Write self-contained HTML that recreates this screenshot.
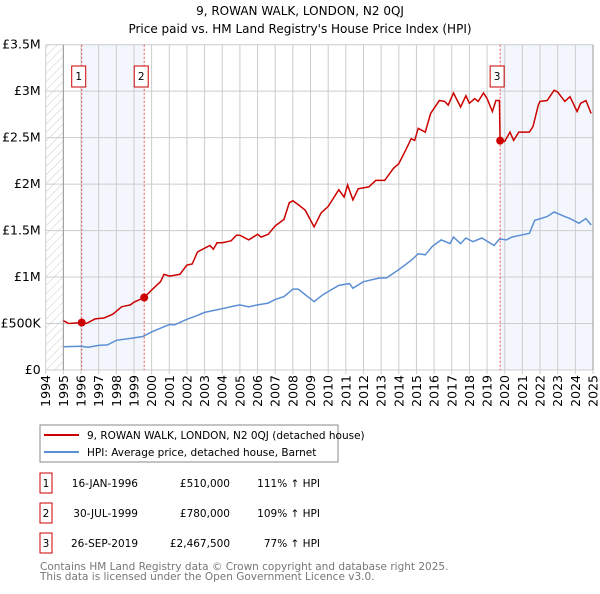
<!DOCTYPE html>
<html><head><meta charset="utf-8"><style>
body{margin:0;background:#fff;font-family:"DejaVu Sans","Liberation Sans",sans-serif;}
svg text{font-family:"DejaVu Sans","Liberation Sans",sans-serif;}
</style></head><body>
<svg id="c" width="600" height="590" xmlns="http://www.w3.org/2000/svg">
<defs><pattern id="hatch" width="6" height="6" patternUnits="userSpaceOnUse" patternTransform="rotate(45)"><line x1="0" y1="0" x2="0" y2="6" stroke="#ccc" stroke-width="1"/></pattern></defs>
<text x="300" y="15" text-anchor="middle" font-size="12" fill="#000">9, ROWAN WALK, LONDON, N2 0QJ</text>
<text x="300" y="33" text-anchor="middle" font-size="12" fill="#000">Price paid vs. HM Land Registry's House Price Index (HPI)</text>
<g id="plot"></g>
<g>
<rect x="40" y="425" width="298" height="37" fill="#fff" stroke="#888"/>
<line x1="44" y1="435" x2="79" y2="435" stroke="#cc0000" stroke-width="2"/>
<text x="87" y="439" font-size="10.5">9, ROWAN WALK, LONDON, N2 0QJ (detached house)</text>
<line x1="44" y1="452" x2="79" y2="452" stroke="#5b8fd4" stroke-width="2"/>
<text x="87" y="456" font-size="10.5">HPI: Average price, detached house, Barnet</text>
</g>
<g id="table" font-size="10.5"></g>
<text x="40" y="570" font-size="10.5" fill="#777">Contains HM Land Registry data © Crown copyright and database right 2025.</text>
<text x="40" y="580" font-size="10.5" fill="#777">This data is licensed under the Open Government Licence v3.0.</text>
</svg>
<script>
const redYears=[1995.0,1995.3,1996.04,1996.3,1996.8,1997.3,1997.8,1998.3,1998.8,1999.0,1999.58,2000.0,2000.5,2000.7,2001.0,2001.3,2001.6,2002.0,2002.3,2002.6,2003.0,2003.3,2003.5,2003.7,2004.0,2004.5,2004.8,2005.0,2005.5,2006.0,2006.2,2006.6,2007.0,2007.5,2007.8,2008.0,2008.3,2008.7,2009.2,2009.6,2010.0,2010.6,2010.9,2011.1,2011.4,2011.7,2012.3,2012.7,2013.2,2013.7,2014.0,2014.4,2014.7,2014.9,2015.1,2015.5,2015.8,2016.3,2016.6,2016.8,2017.1,2017.5,2017.8,2018.0,2018.3,2018.5,2018.8,2019.0,2019.3,2019.5,2019.7,2019.74,2020.0,2020.3,2020.5,2020.8,2021.4,2021.6,2021.9,2022.0,2022.4,2022.8,2023.0,2023.4,2023.7,2024.1,2024.3,2024.6,2024.9];
const redValues=[530,500,510,500,550,560,600,680,700,730,780,860,950,1030,1010,1020,1030,1130,1140,1270,1310,1340,1300,1370,1370,1390,1450,1450,1400,1460,1430,1460,1550,1620,1800,1820,1780,1720,1540,1690,1760,1940,1860,1990,1830,1950,1970,2040,2040,2170,2220,2370,2490,2470,2600,2560,2760,2900,2890,2850,2980,2830,2950,2870,2920,2890,2980,2920,2780,2900,2900,2467.5,2460,2560,2470,2560,2560,2620,2850,2890,2900,3010,2990,2890,2940,2780,2870,2900,2760];
const hpiYears=[1995.0,1996.0,1996.4,1997.0,1997.5,1998.0,1999.0,1999.5,2000.0,2000.5,2001.0,2001.3,2001.7,2002.0,2002.5,2003.0,2003.5,2004.0,2004.7,2005.0,2005.5,2006.0,2006.6,2007.0,2007.5,2008.0,2008.3,2009.2,2009.7,2010.6,2011.2,2011.4,2012.0,2012.9,2013.3,2014.0,2014.7,2015.1,2015.5,2015.9,2016.4,2016.9,2017.1,2017.5,2017.8,2018.2,2018.7,2019.4,2019.7,2020.1,2020.4,2020.9,2021.4,2021.7,2022.4,2022.8,2023.4,2023.7,2024.2,2024.6,2024.9];
const hpiValues=[250,255,245,265,270,320,345,360,410,450,490,485,520,545,580,620,640,660,690,700,680,700,720,760,790,870,870,735,810,910,930,880,950,990,990,1080,1180,1250,1240,1330,1400,1360,1430,1360,1420,1380,1420,1340,1410,1400,1430,1450,1470,1610,1650,1700,1650,1630,1580,1630,1560];
const saleYears=[1996.04,1999.58,2019.74];
const saleValues=[510,780,2467.5];
const saleDates=["16-JAN-1996","30-JUL-1999","26-SEP-2019"];
const salePrices=["£510,000","£780,000","£2,467,500"];
const saleHpi=["111% ↑ HPI","109% ↑ HPI","77% ↑ HPI"];
const yTicks=[0,500,1000,1500,2000,2500,3000,3500];
const yTickLabels=["£0","£500K","£1M","£1.5M","£2M","£2.5M","£3M","£3.5M"];
const xTicks=[1994,1995,1996,1997,1998,1999,2000,2001,2002,2003,2004,2005,2006,2007,2008,2009,2010,2011,2012,2013,2014,2015,2016,2017,2018,2019,2020,2021,2022,2023,2024,2025];

const NS="http://www.w3.org/2000/svg";
const X0=45.7,X1=593,Y0=370,Y1=44.7;
const xs=y=>X0+(y-1994)/(2025-1994)*(X1-X0);
const ys=v=>Y0-v/3500*(Y0-Y1);
const plot=document.getElementById('plot');
function mk(tag,attrs,parent){const e=document.createElementNS(NS,tag);for(const k in attrs)e.setAttribute(k,attrs[k]);(parent||plot).appendChild(e);return e;}

let r=mk('rect',{x:X0,y:Y1,width:xs(1995)-X0,height:Y0-Y1,fill:'url(#hatch)'});


r=mk('rect',{x:xs(saleYears[0]),y:Y1,width:xs(saleYears[1])-xs(saleYears[0]),height:Y0-Y1,fill:'#eef3fc',opacity:0.7});


r=mk('rect',{x:xs(saleYears[2]),y:Y1,width:X1-xs(saleYears[2]),height:Y0-Y1,fill:'#eef3fc',opacity:0.7});



yTicks.forEach((v,i)=>{
 const l=mk('line',{x1:X0,x2:X1,y1:ys(v),y2:ys(v),stroke:'#ccc'});
 
 
 const t=mk('text',{x:X0-5,y:ys(v)+4,'text-anchor':'end','font-size':'12.5'});
 t.textContent=yTickLabels[i];
 
 
});
xTicks.forEach(y=>{
 const l=mk('line',{x1:xs(y),x2:xs(y),y1:Y1,y2:Y0+4,stroke:'#ccc'});
 
 
 const t=mk('text',{x:0,y:0,'text-anchor':'end','font-size':'12.5',transform:`translate(${xs(y)+4.5},${Y0+5}) rotate(-90)`});
 t.textContent=y;
 
 
});
let a=mk('line',{x1:xs(1995),x2:xs(1995),y1:Y1,y2:Y0,stroke:'#999'});


a=mk('line',{x1:X1,x2:X1,y1:Y1,y2:Y0,stroke:'#999'});



saleYears.forEach((y,i)=>{
 const l=mk('line',{x1:xs(y),x2:xs(y),y1:Y1,y2:Y0,stroke:'#f05050','stroke-dasharray':'2,2'});
 
 
 const b=mk('rect',{x:xs(y)-10,y:66,width:14,height:21,fill:'#fff',stroke:'#cc0000'});
 
 
 const t=mk('text',{x:xs(y)-3,y:80,'text-anchor':'middle','font-size':'10.5'});
 t.textContent=String(i+1);
 
 
});

const path=(xa,va)=>xa.map((y,i)=>(i?'L':'M')+xs(y).toFixed(1)+','+ys(va[i]).toFixed(1)).join('');
let p=mk('path',{d:path(hpiYears,hpiValues),fill:'none',stroke:'#5b8fd4','stroke-width':1.5});


p=mk('path',{d:path(redYears,redValues),fill:'none',stroke:'#cc0000','stroke-width':1.5});


saleYears.forEach((y,i)=>{
 const c=mk('circle',{cx:xs(y),cy:ys(saleValues[i]),r:4,fill:'#cc0000'});
 
 
});

const tb=document.getElementById('table');
saleYears.forEach((y,i)=>{
 const cy=483+i*30;
 const b=mk('rect',{x:40,y:cy-10,width:12,height:20,fill:'#fff',stroke:'#cc0000'},tb);
 
 
 const vals=[[46,'middle',String(i+1)],[138,'end',saleDates[i]],[230,'end',salePrices[i]],[320,'end',saleHpi[i]]];
 vals.forEach(v=>{
  const t=mk('text',{x:v[0],y:cy+4,'text-anchor':v[1]},tb);
  t.textContent=v[2];
  
  
 });
});
</script>
</body></html>
